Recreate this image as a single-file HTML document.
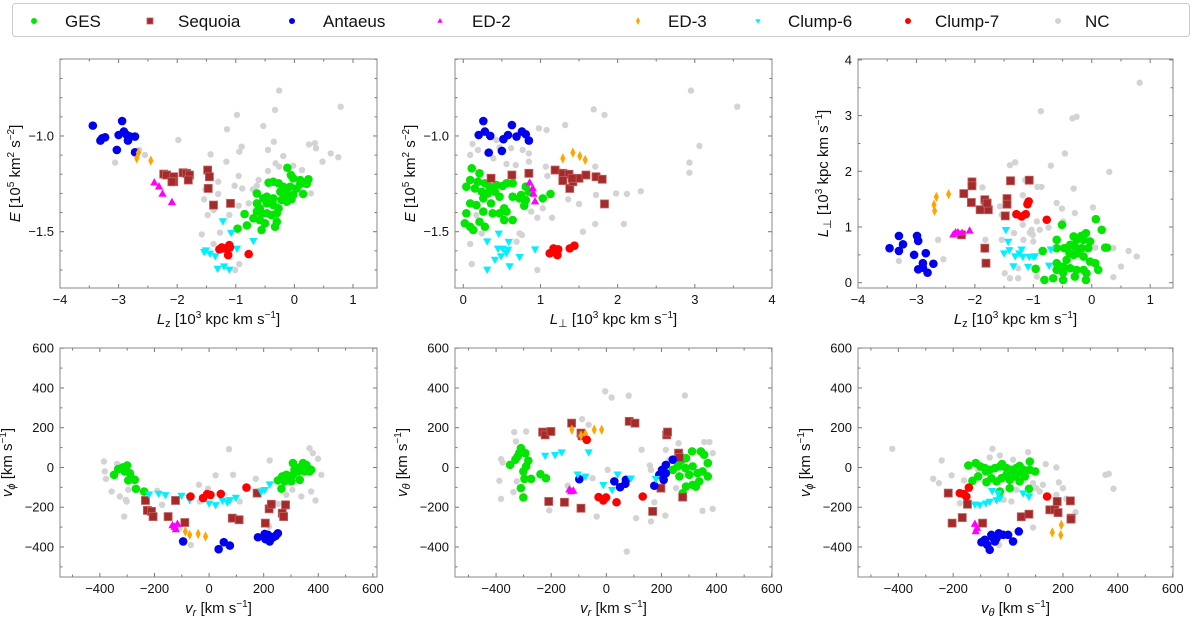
<!DOCTYPE html>
<html><head><meta charset="utf-8"><style>
html,body{margin:0;padding:0;background:#fff;}
svg text{font-family:"Liberation Sans","DejaVu Sans",sans-serif;fill:#111;}
</style></head><body>
<svg id="fig" xmlns="http://www.w3.org/2000/svg" width="1200" height="620" viewBox="0 0 1200 620">
<rect x="0" y="0" width="1200" height="620" fill="#fff"/>
<g id="legend">
<rect x="12.5" y="3.5" width="1177" height="33" rx="3" fill="#fff" stroke="#ccc"/>
</g>
<g id="panels"></g>
</svg>
<script>
// ---------- DATA ----------
const a_ges_x=[-0.12,-0.06,-0.02,0.10,0.24,-0.44,-0.36,-0.27,-0.19,-0.07,0.04,0.15,-0.24,-0.13,-0.02,-0.47,-0.36,-0.22,-0.13,-0.64,-0.53,-0.64,-0.59,-0.47,-0.36,-0.27,-0.64,-0.56,-0.47,-0.39,-0.30,-0.70,-0.59,-0.50,-0.30,-0.33,-0.85,-0.81,-0.97,-0.56,-0.16,-0.05,0.10,0.21];
const a_ges_y=[-1.166,-1.204,-1.221,-1.23,-1.226,-1.244,-1.239,-1.247,-1.265,-1.265,-1.274,-1.303,-1.291,-1.30,-1.308,-1.317,-1.326,-1.334,-1.343,-1.30,-1.326,-1.352,-1.378,-1.352,-1.361,-1.378,-1.395,-1.404,-1.404,-1.413,-1.404,-1.43,-1.439,-1.456,-1.448,-1.474,-1.408,-1.467,-1.484,-1.491,-1.317,-1.331,-1.25,-1.25];
const a_seq_x=[-2.23,-2.18,-2.06,-2.06,-1.90,-1.84,-1.79,-1.81,-1.48,-1.45,-1.47,-1.38,-1.09,-2.09];
const a_seq_y=[-1.199,-1.204,-1.213,-1.239,-1.192,-1.195,-1.204,-1.23,-1.178,-1.213,-1.274,-1.361,-1.352,-1.239];
const a_ant_x=[-3.44,-2.94,-3.28,-3.23,-3.0,-2.91,-2.86,-2.80,-2.72,-2.84,-3.03,-2.72,-3.31];
const a_ant_y=[-0.946,-0.922,-1.012,-1.007,-0.995,-0.977,-0.995,-1.003,-1.003,-1.024,-1.073,-1.085,-1.024];
const a_ed2_x=[-2.39,-2.31,-2.25,-2.09];
const a_ed2_y=[-1.244,-1.265,-1.303,-1.347];
const a_ed3_x=[-2.66,-2.69,-2.45];
const a_ed3_y=[-1.087,-1.117,-1.129];
const a_c6_x=[-1.22,-1.08,-1.51,-1.44,-1.35,-1.31,-1.20,-1.11,-0.98,-0.70,-1.54];
const a_c6_y=[-1.444,-1.505,-1.596,-1.613,-1.627,-1.692,-1.68,-1.697,-1.587,-1.547,-1.605];
const a_c7_x=[-1.28,-1.20,-1.11,-1.10,-1.13,-0.78,-1.24];
const a_c7_y=[-1.592,-1.587,-1.57,-1.582,-1.622,-1.617,-1.582];
const a_nc_x=[-0.26,-0.33,-0.98,0.79,-0.53,-1.15,-1.98,-0.35,-0.90,-0.45,-0.94,-0.19,-1.43,-1.16,-0.32,-0.02,0.13,0.25,0.35,0.37,0.62,0.75,0.48,-0.26,-0.95,-0.61,-0.64,-1.02,-1.30,-0.89,-1.52,-1.30,-1.54,-0.78,-1.38,-1.48,-1.58,-1.11,-1.07,-1.27,-1.38,-0.94,-1.01,0.28,-3.06,-2.65,-2.55,-0.45,-0.71,-0.95];
const a_nc_y=[-0.763,-0.864,-0.89,-0.847,-0.948,-0.965,-1.021,-1.03,-1.056,-1.073,-1.082,-1.105,-1.096,-1.134,-1.143,-1.155,-1.178,-1.044,-1.038,-1.064,-1.091,-1.111,-1.134,-1.16,-1.209,-1.23,-1.26,-1.26,-1.239,-1.274,-1.279,-1.303,-1.331,-1.352,-1.387,-1.413,-1.514,-1.413,-1.505,-1.505,-1.564,-1.669,-1.70,-1.30,-1.139,-1.073,-1.099,-1.183,-1.279,-1.364];
const b_ges_x=[0.11,0.21,0.09,0.19,0.28,0.34,0.43,0.51,0.04,0.15,0.24,0.32,0.41,0.47,0.09,0.17,0.26,0.36,0.53,0.64,0.73,0.81,0.79,0.04,0.26,0.38,0.47,0.56,0.64,0.53,0.21,0.28,0.09,0.13,0.02,0.75,1.03,1.13,0.56,0.64,0.81,0.85];
const b_ges_y=[-1.169,-1.195,-1.23,-1.239,-1.247,-1.265,-1.256,-1.261,-1.265,-1.274,-1.291,-1.30,-1.291,-1.317,-1.352,-1.361,-1.326,-1.352,-1.378,-1.317,-1.326,-1.334,-1.364,-1.404,-1.395,-1.404,-1.404,-1.395,-1.439,-1.439,-1.448,-1.474,-1.474,-1.491,-1.456,-1.308,-1.326,-1.303,-1.247,-1.247,-1.265,-1.291];
const b_seq_x=[0.36,0.63,0.85,1.19,1.29,1.37,1.29,1.38,1.42,1.50,1.59,1.72,1.80,1.83,1.41];
const b_seq_y=[-1.221,-1.204,-1.195,-1.178,-1.195,-1.20,-1.233,-1.274,-1.239,-1.221,-1.204,-1.213,-1.226,-1.355,-1.221];
const b_ant_x=[0.26,0.20,0.28,0.35,0.33,0.63,0.58,0.52,0.69,0.76,0.81,0.85,0.50];
const b_ant_y=[-0.922,-0.995,-0.977,-1.0,-1.087,-0.943,-0.995,-1.017,-1.003,-0.977,-0.991,-1.024,-1.078];
const b_ed2_x=[0.86,0.90,0.91,0.93];
const b_ed2_y=[-1.244,-1.274,-1.303,-1.343];
const b_ed3_x=[1.29,1.42,1.51,1.58];
const b_ed3_y=[-1.117,-1.087,-1.105,-1.125];
const b_c6_x=[0.31,0.46,0.59,0.45,0.51,0.58,0.41,0.49,0.60,0.73,0.93,0.31,0.56];
const b_c6_y=[-1.549,-1.509,-1.552,-1.587,-1.587,-1.592,-1.645,-1.627,-1.679,-1.631,-1.591,-1.697,-1.61];
const b_c7_x=[1.12,1.17,1.23,1.22,1.38,1.44];
const b_c7_y=[-1.613,-1.587,-1.592,-1.622,-1.587,-1.573];
const b_nc_x=[2.95,3.55,1.69,1.83,0.98,1.08,1.32,2.93,2.93,3.06,0.12,0.19,0.31,0.09,0.43,0.47,0.39,0.62,0.77,0.85,0.56,0.68,0.85,1.07,1.09,1.23,1.71,1.98,2.12,2.30,1.72,1.50,1.36,1.03,0.96,1.15,2.08,1.71,1.55,0.73,0.76,0.69,0.09,0.11,0.96,0.24,0.17,0.88];
const b_nc_y=[-0.763,-0.847,-0.861,-0.89,-0.96,-0.969,-0.943,-1.139,-1.192,-1.052,-1.042,-1.073,-1.091,-1.099,-1.021,-1.059,-1.117,-1.064,-1.073,-1.091,-1.146,-1.152,-1.134,-1.16,-1.209,-1.178,-1.16,-1.30,-1.303,-1.289,-1.308,-1.355,-1.331,-1.378,-1.427,-1.427,-1.46,-1.46,-1.50,-1.509,-1.517,-1.552,-1.564,-1.669,-1.70,-1.509,-1.413,-1.395];
const c_ges_x=[0.07,0.17,-0.10,-0.18,-0.31,-0.26,-0.14,-0.03,-0.37,-0.29,-0.17,-0.06,-0.51,-0.60,-0.47,-0.38,-0.31,-0.23,-0.14,-0.03,0.06,-0.60,-0.49,-0.37,-0.26,-0.14,-0.09,0.11,-0.60,-0.49,-0.66,-0.49,-0.29,-0.10,-0.81,-0.84,-0.96,0.23,0.26,-0.60,-0.43];
const c_ges_y=[1.14,0.95,0.89,0.84,0.83,0.77,0.77,0.74,0.68,0.65,0.62,0.62,1.04,0.77,0.62,0.53,0.50,0.53,0.47,0.38,0.35,0.35,0.29,0.26,0.23,0.23,0.17,0.23,0.23,0.18,0.08,0.05,0.11,0.05,0.05,0.57,0.25,0.63,0.63,0.62,0.41];
const c_seq_x=[-2.05,-2.05,-2.19,-2.06,-1.83,-1.81,-1.77,-1.91,-1.79,-1.39,-1.45,-1.45,-1.48,-1.07,-2.23,-1.83,-1.81];
const c_seq_y=[1.81,1.74,1.60,1.44,1.49,1.37,1.31,1.31,1.43,1.83,1.51,1.41,1.20,1.84,0.86,0.62,0.35];
const c_ant_x=[-3.46,-3.30,-3.23,-3.30,-2.99,-2.97,-3.04,-2.84,-2.89,-2.97,-2.89,-2.81,-2.71];
const c_ant_y=[0.62,0.84,0.69,0.57,0.84,0.75,0.50,0.53,0.35,0.24,0.27,0.18,0.34];
const c_ed2_x=[-2.37,-2.29,-2.22,-2.09,-2.33];
const c_ed2_y=[0.86,0.90,0.89,0.93,0.90];
const c_ed3_x=[-2.69,-2.70,-2.66,-2.45];
const c_ed3_y=[1.29,1.40,1.54,1.59];
const c_c6_x=[-1.47,-1.43,-1.50,-1.41,-1.31,-1.34,-1.20,-1.18,-1.07,-1.0,-1.09,-0.97,-0.70,-0.73,-1.24];
const c_c6_y=[0.95,0.74,0.53,0.59,0.48,0.30,0.60,0.47,0.47,0.47,0.29,0.48,0.60,0.31,0.53];
const c_c7_x=[-1.29,-1.20,-1.13,-1.10,-1.08,-0.77];
const c_c7_y=[1.23,1.19,1.23,1.41,1.46,1.13];
const c_nc_x=[0.82,-0.87,-0.33,-0.26,-0.46,-0.70,0.30,-1.40,-1.31,-1.87,-1.14,-0.93,-0.86,-0.31,-1.18,-0.60,-0.29,0.02,-0.51,-1.57,-1.54,-0.94,-1.18,-0.74,-0.89,-1.06,-1.33,-1.17,-1.0,-1.01,-1.03,-1.54,-1.83,-1.82,-2.63,-2.54,-3.30,-0.49,0.06,0.37,0.63,0.77,0.50,0.37,-1.26,-1.49,-1.40,-1.26,-0.94];
const c_nc_y=[3.59,3.08,2.95,2.98,2.32,2.10,1.99,2.11,2.16,1.71,1.84,1.72,1.72,1.69,1.57,1.43,1.25,1.35,1.33,1.37,1.22,1.10,1.04,0.99,0.95,0.90,0.89,0.77,0.74,0.86,0.95,0.77,0.59,0.77,0.77,0.42,0.39,1.10,0.63,0.62,0.57,0.47,0.29,0.10,0.26,0.17,0.08,0.08,0.11];
const d_ges_x=[-348,-333,-317,-300,-309,-290,-284,-296,-272,-268,-238,252,268,265,277,283,295,307,313,326,307,326,338,344,356,350,362,368,332,301,374];
const d_ges_y=[-37,-8,0,10,-20,-29,-54,-65,-62,-107,-121,-65,-45,-107,-70,-37,-54,-37,-12,-20,22,-3,5,22,13,-20,-3,-20,-62,-70,-12];
const d_seq_x=[-233,-226,-211,-205,-150,-123,-89,85,110,176,220,228,206,268,273,280];
const d_seq_y=[-166,-216,-221,-247,-247,-166,-277,-255,-263,-129,-208,-185,-280,-230,-247,-188];
const d_ant_x=[-95,35,54,76,179,204,222,216,234,207,244,252,222];
const d_ant_y=[-372,-411,-376,-393,-351,-334,-356,-339,-352,-361,-344,-331,-372];
const d_ed2_x=[-134,-126,-116,-122];
const d_ed2_y=[-292,-300,-285,-312];
const d_ed3_x=[-87,-71,-40,-13];
const d_ed3_y=[-322,-339,-334,-347];
const d_c6_x=[-220,-185,-160,-101,-73,0,24,49,67,76,98,191,204,222,-71];
const d_c6_y=[-134,-131,-138,-141,-151,-180,-188,-166,-175,-163,-151,-121,-112,-84,-163];
const d_c7_x=[-68,-22,-7,5,43,137];
const d_c7_y=[-146,-154,-134,-138,-133,-101];
const d_nc_x=[-385,-382,-378,-357,-337,-327,-305,-296,-302,-311,-190,-172,-37,-4,24,73,88,76,112,171,185,222,220,252,283,305,368,380,399,374,390,411,338,-67,-107,-34];
const d_nc_y=[30,-20,-57,-121,18,-146,-163,-112,-171,-247,-117,-188,-87,-107,-40,92,-37,-168,-171,-57,-116,35,-297,-183,-138,-112,97,72,44,-121,-166,-37,-146,-390,-305,-171];
const e_ges_x=[-349,-330,-322,-310,-316,-294,-283,-291,-301,-273,-297,-310,-301,-239,-219,241,259,271,289,311,343,355,368,349,313,331,337,368,325,289,277,313,301,265,287];
const e_ges_y=[13,39,55,97,72,72,34,5,-20,-57,-57,-104,-151,-34,-54,-12,5,34,47,81,81,64,22,-20,5,-29,-70,-45,-96,-96,-129,-87,-37,-45,-3];
const e_seq_x=[-231,-222,-201,-126,-92,-88,83,104,219,222,262,265,-209,-152,-92,198,168,277];
const e_seq_y=[178,164,181,223,173,159,232,223,164,178,72,50,-171,-175,-205,-104,-221,-149];
const e_ant_x=[-98,29,50,69,71,174,192,202,208,216,241,216];
const e_ant_y=[-59,-70,-99,-82,-62,-92,-37,-12,-62,13,39,-29];
const e_ed2_x=[-134,-120,-128];
const e_ed2_y=[-112,-117,-121];
const e_ed3_x=[-125,-92,-76,-44,-17];
const e_ed3_y=[190,161,168,190,190];
const e_c6_x=[-222,-186,-162,-64,-104,-76,-11,21,41,89,180];
const e_c6_y=[60,64,77,77,-34,-45,-87,-112,-34,-54,-57];
const e_c7_x=[-71,-28,-11,-1,37,132];
const e_c7_y=[139,-149,-166,-151,-175,-146];
const e_nc_x=[-388,-382,-376,-334,-328,-291,-382,-337,-325,-213,-140,-88,-64,-35,-4,19,81,128,158,162,174,108,162,214,216,229,253,285,262,355,374,386,368,386,349,74,5,-50,-207,289];
const e_nc_y=[-67,42,25,178,131,181,-158,-124,-70,-180,-92,243,215,-247,383,352,361,89,10,-12,-175,-255,-272,-242,89,39,-104,362,122,128,128,72,-37,-208,-218,-423,-12,-54,-216,-37];
const f_ges_x=[-145,-118,-101,-85,-67,-48,-30,-22,-6,12,30,42,57,79,99,-130,-109,-79,-61,-42,-24,6,24,42,61,79,-30,6,76,-81,-6,36];
const f_ges_y=[10,22,5,-3,-12,-3,5,17,-3,-12,-3,8,-12,30,-20,-67,-45,-74,-54,-70,-54,-62,-45,-70,-45,-12,-121,-104,-107,-20,-37,-29];
const f_seq_x=[-218,-167,-148,-204,-93,48,76,152,179,170,182,227,230,229];
const f_seq_y=[-129,-252,-185,-280,-280,-248,-235,-213,-171,-213,-227,-168,-255,-260];
const f_ant_x=[-97,-85,-76,-67,-57,-48,-34,-18,0,18,39,-61,-42];
const f_ant_y=[-376,-364,-389,-414,-351,-372,-331,-339,-339,-372,-322,-339,-356];
const f_ed2_x=[-121,-113,-118];
const f_ed2_y=[-285,-305,-322];
const f_ed3_x=[161,192,194];
const f_ed3_y=[-327,-340,-289];
const f_c6_x=[-121,-103,-81,-67,-58,-42,-36,-30,55,76];
const f_c6_y=[-185,-188,-180,-171,-117,-163,-129,-154,-129,-146];
const f_c7_x=[-176,-161,-152,-143,142];
const f_c7_y=[-129,-134,-146,-101,-146];
const f_nc_x=[-422,-273,-252,-242,-206,-161,-176,-133,-139,-109,-67,-57,-30,18,73,137,176,185,176,91,103,127,115,79,30,12,-16,91,-33,212,355,367,384,246,178,200];
const f_nc_y=[94,-57,-79,35,-40,-65,-180,-70,-107,-12,50,94,60,39,77,17,0,-75,-138,-79,-104,-87,-121,-121,-112,-171,-163,-302,-390,-158,-37,-32,-107,-225,-185,-104];

const legendNames=["GES","Sequoia","Antaeus","ED-2","ED-3","Clump-6","Clump-7","NC"];

// ---------- DRAWING ----------
const NS="http://www.w3.org/2000/svg";
const svg=document.getElementById('fig');
const panelsG=document.getElementById('panels');
const STY={
 ges:{c:"#00e600",m:"circle",r:4.3},
 seq:{c:"#a52a2a",m:"square",r:4.0},
 ant:{c:"#0000ee",m:"circle",r:4.3},
 ed2:{c:"#ff00ff",m:"tri",r:4.6},
 ed3:{c:"#ffa500",m:"diamond",r:5.2},
 c6:{c:"#00f0ff",m:"tridown",r:4.6},
 c7:{c:"#ff0000",m:"circle",r:4.3},
 nc:{c:"#d3d3d3",m:"circle",r:3.2}
};
function mk(tag,attrs,parent){const e=document.createElementNS(NS,tag);for(const k in attrs)e.setAttribute(k,attrs[k]);if(parent)parent.appendChild(e);return e;}
function marker(g,type,cx,cy,r,col){
 let e;
 if(type==="circle")e=mk('circle',{cx:cx,cy:cy,r:r,fill:col},g);
 else if(type==="square")e=mk('rect',{x:cx-r,y:cy-r,width:2*r,height:2*r,fill:col,stroke:"#c06060","stroke-width":0.8},g);
 else if(type==="tri")e=mk('polygon',{points:`${cx},${cy-r} ${cx-r*0.9},${cy+r*0.6} ${cx+r*0.9},${cy+r*0.6}`,fill:col},g);
 else if(type==="tridown")e=mk('polygon',{points:`${cx},${cy+r} ${cx-r*0.9},${cy-r*0.6} ${cx+r*0.9},${cy-r*0.6}`,fill:col},g);
 else if(type==="diamond")e=mk('polygon',{points:`${cx},${cy-r} ${cx-r*0.5},${cy} ${cx},${cy+r} ${cx+r*0.5},${cy}`,fill:col},g);
 return e;
}
const panels=[
 {id:"a",box:[60,377,59,288],xd:[-4,1.41],yd:[-1.794,-0.598],xt:[-4,-3,-2,-1,0,1],xm:0.5,yt:[-1.5,-1.0],ym:0.1,yfmt:v=>v.toFixed(1).replace('-','\u2212'),xl:'Lz',yl:'E'},
 {id:"b",box:[455,772,59,288],xd:[-0.107,4.0],yd:[-1.794,-0.598],xt:[0,1,2,3,4],xm:0.5,yt:[-1.5,-1.0],ym:0.1,yfmt:v=>v.toFixed(1).replace('-','\u2212'),xl:'Lp',yl:'E'},
 {id:"c",box:[858,1173,59,288],xd:[-4,1.39],yd:[-0.095,4.016],xt:[-4,-3,-2,-1,0,1],xm:0.5,yt:[0,1,2,3,4],ym:0.5,xl:'Lz',yl:'Lp'},
 {id:"d",box:[60,377,348,577],xd:[-546,615],yd:[-551,601],xt:[-400,-200,0,200,400,600],xm:100,yt:[-400,-200,0,200,400,600],ym:100,xl:'vr',yl:'vphi'},
 {id:"e",box:[455,772,348,577],xd:[-549,601],yd:[-551,601],xt:[-400,-200,0,200,400,600],xm:100,yt:[-400,-200,0,200,400,600],ym:100,xl:'vr',yl:'vth'},
 {id:"f",box:[858,1173,348,577],xd:[-547,601],yd:[-551,601],xt:[-400,-200,0,200,400,600],xm:100,yt:[-400,-200,0,200,400,600],ym:100,xl:'vth',yl:'vphi'}
];
const DATA={
 a:{ges:[a_ges_x,a_ges_y],seq:[a_seq_x,a_seq_y],ant:[a_ant_x,a_ant_y],ed2:[a_ed2_x,a_ed2_y],ed3:[a_ed3_x,a_ed3_y],c6:[a_c6_x,a_c6_y],c7:[a_c7_x,a_c7_y],nc:[a_nc_x,a_nc_y]},
 b:{ges:[b_ges_x,b_ges_y],seq:[b_seq_x,b_seq_y],ant:[b_ant_x,b_ant_y],ed2:[b_ed2_x,b_ed2_y],ed3:[b_ed3_x,b_ed3_y],c6:[b_c6_x,b_c6_y],c7:[b_c7_x,b_c7_y],nc:[b_nc_x,b_nc_y]},
 c:{ges:[c_ges_x,c_ges_y],seq:[c_seq_x,c_seq_y],ant:[c_ant_x,c_ant_y],ed2:[c_ed2_x,c_ed2_y],ed3:[c_ed3_x,c_ed3_y],c6:[c_c6_x,c_c6_y],c7:[c_c7_x,c_c7_y],nc:[c_nc_x,c_nc_y]},
 d:{ges:[d_ges_x,d_ges_y],seq:[d_seq_x,d_seq_y],ant:[d_ant_x,d_ant_y],ed2:[d_ed2_x,d_ed2_y],ed3:[d_ed3_x,d_ed3_y],c6:[d_c6_x,d_c6_y],c7:[d_c7_x,d_c7_y],nc:[d_nc_x,d_nc_y]},
 e:{ges:[e_ges_x,e_ges_y],seq:[e_seq_x,e_seq_y],ant:[e_ant_x,e_ant_y],ed2:[e_ed2_x,e_ed2_y],ed3:[e_ed3_x,e_ed3_y],c6:[e_c6_x,e_c6_y],c7:[e_c7_x,e_c7_y],nc:[e_nc_x,e_nc_y]},
 f:{ges:[f_ges_x,f_ges_y],seq:[f_seq_x,f_seq_y],ant:[f_ant_x,f_ant_y],ed2:[f_ed2_x,f_ed2_y],ed3:[f_ed3_x,f_ed3_y],c6:[f_c6_x,f_c6_y],c7:[f_c7_x,f_c7_y],nc:[f_nc_x,f_nc_y]}
};
const order=["nc","ges","seq","ant","ed2","ed3","c6","c7"];
const LAB={
 Lz:'<tspan font-style="italic">L</tspan><tspan font-size="11" dy="3">z</tspan><tspan dy="-3"> [10</tspan><tspan font-size="10" dy="-6">3</tspan><tspan dy="6"> kpc km s</tspan><tspan font-size="10" dy="-6">\u22121</tspan><tspan dy="6">]</tspan>',
 Lp:'<tspan font-style="italic">L</tspan><tspan font-size="11" dy="3">\u22a5</tspan><tspan dy="-3"> [10</tspan><tspan font-size="10" dy="-6">3</tspan><tspan dy="6"> kpc km s</tspan><tspan font-size="10" dy="-6">\u22121</tspan><tspan dy="6">]</tspan>',
 E:'<tspan font-style="italic">E</tspan><tspan> [10</tspan><tspan font-size="10" dy="-6">5</tspan><tspan dy="6"> km</tspan><tspan font-size="10" dy="-6">2</tspan><tspan dy="6"> s</tspan><tspan font-size="10" dy="-6">\u22122</tspan><tspan dy="6">]</tspan>',
 vr:'<tspan font-style="italic">v</tspan><tspan font-size="11" font-style="italic" dy="3">r</tspan><tspan dy="-3"> [km s</tspan><tspan font-size="10" dy="-6">\u22121</tspan><tspan dy="6">]</tspan>',
 vphi:'<tspan font-style="italic">v</tspan><tspan font-size="11" font-style="italic" dy="3">\u03d5</tspan><tspan dy="-3"> [km s</tspan><tspan font-size="10" dy="-6">\u22121</tspan><tspan dy="6">]</tspan>',
 vth:'<tspan font-style="italic">v</tspan><tspan font-size="11" font-style="italic" dy="3">\u03b8</tspan><tspan dy="-3"> [km s</tspan><tspan font-size="10" dy="-6">\u22121</tspan><tspan dy="6">]</tspan>'
};
panels.forEach(p=>{
 const [x0,x1,y0,y1]=p.box;
 const sx=v=>x0+(v-p.xd[0])/(p.xd[1]-p.xd[0])*(x1-x0);
 const sy=v=>y1-(v-p.yd[0])/(p.yd[1]-p.yd[0])*(y1-y0);
 const g=mk('g',{},panelsG);
 
 
 const cp='clip'+p.id;
 const cl=mk('clipPath',{id:cp},g);mk('rect',{x:x0,y:y0,width:x1-x0,height:y1-y0},cl);
 const tg=mk('g',{stroke:"#777","stroke-width":1},g);
 
 
 const fmt=p.yfmt||(v=>String(v).replace('-','\u2212'));
 for(let v=Math.ceil(p.xd[0]/p.xm)*p.xm;v<=p.xd[1]+1e-9;v+=p.xm){
  const X=sx(v);const maj=p.xt.some(t=>Math.abs(t-v)<1e-6);const L=maj?4:2.5;
  mk('line',{x1:X,x2:X,y1:y1,y2:y1-L},tg);mk('line',{x1:X,x2:X,y1:y0,y2:y0+L},tg);
 }
 for(let v=Math.ceil(p.yd[0]/p.ym-1e-9)*p.ym;v<=p.yd[1]+1e-9;v+=p.ym){
  const Y=sy(v);const maj=p.yt.some(t=>Math.abs(t-v)<1e-6);const L=maj?4:2.5;
  mk('line',{x1:x0,x2:x0+L,y1:Y,y2:Y},tg);mk('line',{x1:x1,x2:x1-L,y1:Y,y2:Y},tg);
 }
 p.xt.forEach(v=>{const t=mk('text',{x:sx(v),y:y1+16,'text-anchor':'middle','font-size':13},g);t.textContent=String(v).replace('-','\u2212');
  
  });
 p.yt.forEach(v=>{const t=mk('text',{x:x0-6,y:sy(v)+4.5,'text-anchor':'end','font-size':13},g);t.textContent=fmt(v);
  
  });
 const xlab=mk('text',{x:(x0+x1)/2,y:y1+36,'text-anchor':'middle','font-size':15},g);xlab.innerHTML=LAB[p.xl];
 
 
 const yoff=(p.id==='c')?30:(p.id==='a'||p.id==='b')?40:48;
 const yx=x0-yoff, yc=(y0+y1)/2;
 const ylab=mk('text',{x:yx,y:yc,'text-anchor':'middle','font-size':15,transform:`rotate(-90 ${yx} ${yc})`},g);ylab.innerHTML=LAB[p.yl];
 
 
 const pg=mk('g',{'clip-path':`url(#${cp})`},g);
 
 
 order.forEach(k=>{
  const [xs,ys]=DATA[p.id][k];const s=STY[k];
  const n=Math.min(xs.length,ys.length);
  for(let i=0;i<n;i++){
   const m=marker(pg,s.m,sx(xs[i]),sy(ys[i]),s.r,s.c);
   
   
  }
 });
 const fr=mk('rect',{x:x0,y:y0,width:x1-x0,height:y1-y0,fill:'none',stroke:'#888','stroke-width':1},g);
 
 
});
const lg=document.getElementById('legend');
const lmx=[34,150,292,440,638,758,908,1058];
const ltx=[65,178,323,472,668,788,935,1085];
const keys=["ges","seq","ant","ed2","ed3","c6","c7","nc"];
keys.forEach((k,i)=>{
 const s=STY[k];
 const e=mk('g',{},lg);
 
 
 marker(e,s.m,lmx[i],21,s.m==="diamond"?4:3,s.c);
 const t=mk('text',{x:ltx[i],y:27,'font-size':17},e);t.textContent=legendNames[i];
});
</script>
</body></html>
